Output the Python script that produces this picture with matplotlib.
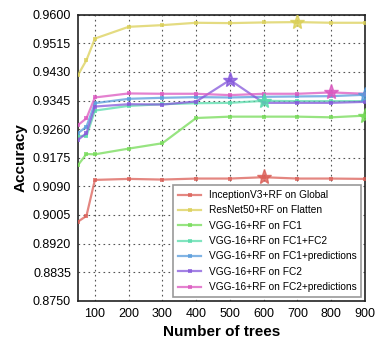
import matplotlib
matplotlib.use("Agg")
import matplotlib.pyplot as plt
import numpy as np
import seaborn as sns

trees = [50, 75, 100, 200, 300, 400, 500, 600, 700, 800, 900]
labels = ["InceptionV3+RF on Global", "ResNet50+RF on Flatten", "VGG-16+RF on FC1",
          "VGG-16+RF on FC1+FC2", "VGG-16+RF on FC1+predictions", "VGG-16+RF on FC2",
          "VGG-16+RF on FC2+predictions"]
inception = [0.8985, 0.9002, 0.9109, 0.9112, 0.9110, 0.9113, 0.9113, 0.9117, 0.9113, 0.9113, 0.9112]
resnet = [0.9421, 0.9465, 0.9529, 0.9564, 0.9569, 0.9576, 0.9575, 0.9577, 0.9578, 0.9576, 0.9576]
fc1 = [0.9153, 0.9186, 0.9185, 0.9202, 0.9218, 0.9293, 0.9297, 0.9297, 0.9297, 0.9295, 0.9300]
fc1fc2 = [0.9240, 0.9239, 0.9315, 0.9329, 0.9334, 0.9337, 0.9338, 0.9344, 0.9343, 0.9343, 0.9343]
fc1pred = [0.9248, 0.9267, 0.9337, 0.9350, 0.9353, 0.9355, 0.9354, 0.9356, 0.9357, 0.9358, 0.9362]
fc2 = [0.9228, 0.9248, 0.9327, 0.9334, 0.9333, 0.9342, 0.9406, 0.9338, 0.9338, 0.9338, 0.9341]
fc2pred = [0.9272, 0.9292, 0.9354, 0.9366, 0.9365, 0.9365, 0.9361, 0.9365, 0.9365, 0.9369, 0.9365]
series = [inception, resnet, fc1, fc1fc2, fc1pred, fc2, fc2pred]

yticks = [0.8750, 0.8835, 0.8920, 0.9005, 0.9090, 0.9175, 0.9260, 0.9345, 0.9430, 0.9515, 0.9600]
xticks = [100, 200, 300, 400, 500, 600, 700, 800, 900]

plt.rcParams['font.family'] = ['Liberation Sans', 'DejaVu Sans']
colors = sns.color_palette("hls", 7)

fig = plt.figure(figsize=(3.84, 3.53), dpi=100)
ax = fig.add_axes([78/384, 1 - 300.7/353, (365-78)/384, (300.7-14.7)/353])

for vals, lab, c in zip(series, labels, colors):
    ax.plot(trees, vals, color=c, lw=1.6, alpha=0.75, marker='s', markersize=2.5,
            markeredgewidth=0, label=lab, zorder=3)
    i = int(np.argmax(vals))
    ax.plot(trees[i], vals[i], marker='*', markersize=11, color=c, alpha=0.8,
            linestyle='none', zorder=4)

ax.set_xlim(50, 900)
ax.set_ylim(0.8750, 0.9600)
ax.set_xticks(xticks)
ax.set_yticks(yticks)
ax.set_yticklabels([f"{v:.4f}" for v in yticks])
ax.tick_params(labelsize=9, length=0, pad=5)
ax.grid(True, linestyle=(0, (1.5, 3)), color='#555555', lw=0.8)
for s in ax.spines.values():
    s.set_color('#222222')
    s.set_linewidth(1.2)
ax.set_xlabel("Number of trees", fontsize=11, fontweight='bold')
ax.set_ylabel("Accuracy", fontsize=11, fontweight='bold')
leg = ax.legend(loc='lower right', fontsize=7.25, fancybox=False, framealpha=1,
                edgecolor='#999999', handlelength=2.25, handletextpad=0.75,
                borderpad=0.5, labelspacing=0.53, borderaxespad=0.35)
leg.get_frame().set_linewidth(1.2)

fig.savefig("out.png", dpi=100)
